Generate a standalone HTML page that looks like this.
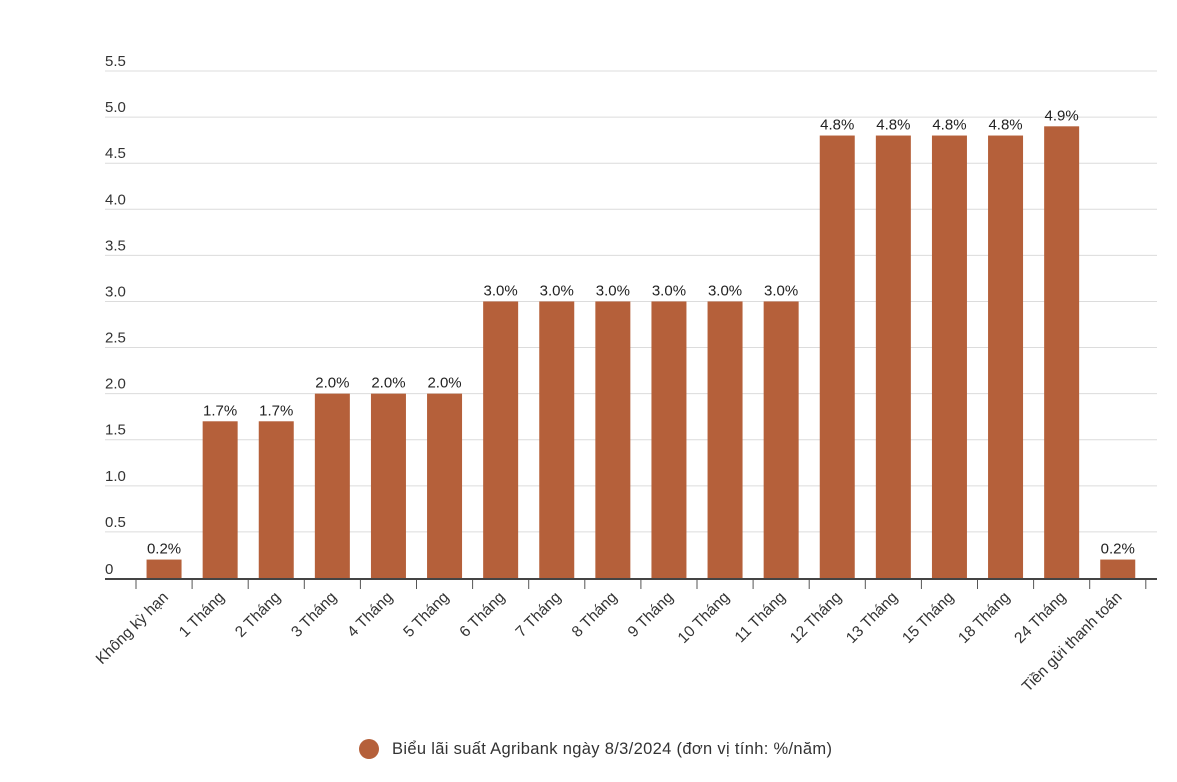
<!DOCTYPE html>
<html><head><meta charset="utf-8"><style>
body{margin:0;background:#fff;}
svg text{font-family:"Liberation Sans",sans-serif;}
</style></head><body>
<svg width="1177" height="777" xmlns="http://www.w3.org/2000/svg">
<g id="grid" stroke="#dcdcdc" stroke-width="1"></g>
<g id="ylab" font-size="15" fill="#333"></g>
<g id="bars"></g>
<line x1="105" y1="579" x2="1157" y2="579" stroke="#444" stroke-width="2"/>
<g id="ticks" stroke="#555" stroke-width="1"></g>
<g id="xlab" font-size="15.5" fill="#333"></g>
<circle cx="369" cy="749" r="10" fill="#b5603a"/>
<text x="392" y="754" font-size="16.5" fill="#333" textLength="440">Biểu lãi suất Agribank ngày 8/3/2024 (đơn vị tính: %/năm)</text>
</svg>
<script>
const ns="http://www.w3.org/2000/svg";
function el(t,a,p,txt){const e=document.createElementNS(ns,t);for(const k in a)e.setAttribute(k,a[k]);if(txt)e.textContent=txt;document.getElementById(p).appendChild(e);}
const y0=578,u=92.18;
for(let i=1;i<=11;i++){const v=i*0.5,y=y0-v*u;el('line',{x1:105,x2:1157,y1:y,y2:y},'grid');el('text',{x:105,y:y-5},'ylab',v.toFixed(1));}
el('text',{x:105,y:y0-4},'ylab','0');
const cats=["Không kỳ hạn","1 Tháng","2 Tháng","3 Tháng","4 Tháng","5 Tháng","6 Tháng","7 Tháng","8 Tháng","9 Tháng","10 Tháng","11 Tháng","12 Tháng","13 Tháng","15 Tháng","18 Tháng","24 Tháng","Tiền gửi thanh toán"];
const vals=[0.2,1.7,1.7,2,2,2,3,3,3,3,3,3,4.8,4.8,4.8,4.8,4.9,0.2];
const x0=136,w=56.1;
for(let i=0;i<18;i++){const c=x0+w*(i+0.5),h=vals[i]*u;
el('rect',{x:c-17.5,y:y0-h,width:35,height:h,fill:'#b5603a'},'bars');
el('text',{x:c,y:y0-h-6,'text-anchor':'middle','font-size':15,fill:'#222'},'bars',vals[i].toFixed(1)+'%');
el('text',{x:c+5,y:598,'text-anchor':'end',transform:`rotate(-45 ${c+5} 598)`},'xlab',cats[i]);}
for(let i=0;i<=18;i++){const x=x0+w*i;el('line',{x1:x,x2:x,y1:580,y2:589},'ticks');}
</script>
</body></html>
